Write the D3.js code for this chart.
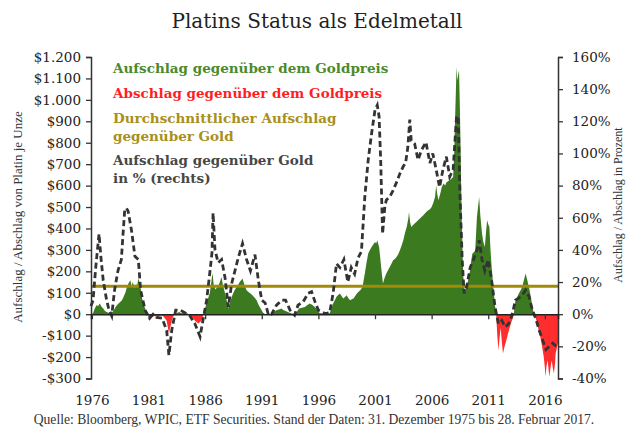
<!DOCTYPE html>
<html>
<head>
<meta charset="utf-8">
<script src="https://cdn.jsdelivr.net/npm/d3@7"></script>
<style>
  body { margin: 0; background: #fff; }
  svg text { font-family: "DejaVu Serif", serif; }
</style>
</head>
<body>
<svg id="chart" width="627" height="430"></svg>
<script>
// Aufschlag in $ je Unze (Platin - Gold)
var premYear = [1975.92,1976.1,1976.25,1976.4,1976.55,1976.7,1976.85,1977.0,1977.15,1977.3,1977.55,1977.75,1977.9,1978.05,1978.2,1978.35,1978.5,1978.65,1978.8,1978.95,1979.1,1979.25,1979.4,1979.5,1979.6,1979.7,1979.8,1979.9,1980.0,1980.1,1980.2,1980.33,1980.45,1980.6,1980.75,1980.9,1981.0,1981.15,1981.3,1981.5,1981.7,1981.9,1982.1,1982.3,1982.45,1982.6,1982.7,1982.8,1982.9,1983.0,1983.1,1983.2,1983.35,1983.5,1983.7,1983.9,1984.1,1984.3,1984.5,1984.65,1984.8,1984.95,1985.1,1985.25,1985.4,1985.55,1985.7,1985.8,1985.87,1986.0,1986.13,1986.3,1986.4,1986.5,1986.6,1986.66,1986.75,1986.9,1987.05,1987.15,1987.3,1987.45,1987.55,1987.65,1987.8,1987.9,1988.05,1988.2,1988.35,1988.5,1988.6,1988.75,1988.9,1989.05,1989.2,1989.3,1989.45,1989.55,1989.66,1989.8,1990.0,1990.15,1990.3,1990.45,1990.55,1990.7,1990.9,1991.1,1991.3,1991.5,1991.7,1991.9,1992.1,1992.3,1992.5,1992.75,1992.9,1993.1,1993.3,1993.5,1993.7,1993.9,1994.1,1994.3,1994.55,1994.8,1995.0,1995.25,1995.4,1995.5,1995.65,1995.8,1995.95,1996.1,1996.4,1996.7,1997.0,1997.15,1997.3,1997.45,1997.6,1997.75,1997.9,1998.05,1998.2,1998.35,1998.5,1998.65,1998.8,1998.95,1999.1,1999.25,1999.4,1999.55,1999.7,1999.9,2000.0,2000.1,2000.25,2000.4,2000.55,2000.7,2000.85,2001.0,2001.1,2001.2,2001.36,2001.45,2001.55,2001.7,2001.85,2002.0,2002.15,2002.3,2002.45,2002.6,2002.75,2002.9,2003.05,2003.2,2003.35,2003.5,2003.65,2003.8,2003.95,2004.0,2004.1,2004.2,2004.35,2004.5,2004.65,2004.8,2004.95,2005.1,2005.25,2005.4,2005.55,2005.7,2005.85,2006.0,2006.15,2006.3,2006.4,2006.5,2006.6,2006.75,2006.9,2007.05,2007.2,2007.3,2007.45,2007.6,2007.75,2007.9,2008.0,2008.05,2008.12,2008.2,2008.27,2008.35,2008.42,2008.5,2008.55,2008.62,2008.68,2008.75,2008.8,2008.9,2009.0,2009.1,2009.25,2009.4,2009.5,2009.6,2009.75,2009.85,2009.95,2010.0,2010.1,2010.2,2010.3,2010.45,2010.55,2010.7,2010.8,2010.9,2011.0,2011.1,2011.2,2011.3,2011.4,2011.5,2011.6,2011.7,2011.8,2011.9,2012.0,2012.1,2012.2,2012.3,2012.45,2012.6,2012.75,2012.9,2013.05,2013.2,2013.3,2013.4,2013.55,2013.7,2013.85,2014.0,2014.15,2014.3,2014.45,2014.55,2014.65,2014.8,2014.9,2015.0,2015.1,2015.2,2015.33,2015.45,2015.6,2015.75,2015.9,2016.0,2016.05,2016.15,2016.25,2016.33,2016.4,2016.5,2016.6,2016.7,2016.8,2016.9,2016.95,2017.05,2017.16];
var premUsd = [0,5,25,42,38,50,35,27,15,10,5,8,15,30,42,50,57,65,81,100,127,145,158,127,150,135,120,140,135,166,150,112,70,42,20,8,0,-10,-14,-8,-12,-10,-6,-10,-20,-30,-60,-90,-65,-45,-20,-8,2,6,10,5,8,6,2,-5,-12,-20,-30,-38,-43,-36,-28,-10,0,30,50,80,96,130,175,190,140,115,125,130,150,174,140,120,90,65,27,55,81,100,112,125,135,150,160,166,140,125,112,105,96,90,81,72,65,45,27,8,0,-3,-2,5,12,19,22,27,20,15,10,6,3,0,12,27,30,34,42,50,45,42,35,27,15,6,3,2,5,25,50,65,81,90,96,85,73,80,88,75,65,70,73,85,96,105,112,127,160,190,240,283,300,314,325,337,330,345,314,270,215,143,170,190,205,220,235,252,258,267,280,298,320,345,380,407,450,477,430,407,415,423,430,438,445,453,460,470,478,485,490,500,520,547,600,560,532,560,594,610,600,615,620,625,632,640,760,873,1000,1153,1090,1120,1137,950,796,560,407,260,174,112,118,127,165,205,250,283,290,298,400,453,500,547,460,376,340,314,380,438,420,407,300,220,160,96,40,0,-100,-168,-110,-62,-130,-183,-150,-122,-90,-62,-35,-15,20,65,80,96,110,127,160,190,158,135,112,70,34,12,0,-20,-43,-75,-106,-150,-199,-250,-292,-240,-215,-260,-292,-250,-215,-250,-277,-230,-184,-160,-137];

// Aufschlag in % (rechte Achse)
var pctYear = [1975.92,1976.1,1976.35,1976.63,1976.8,1977.0,1977.3,1977.5,1977.75,1978.0,1978.3,1978.6,1978.75,1978.9,1979.05,1979.2,1979.5,1979.8,1980.1,1980.3,1980.7,1981.1,1981.4,1981.7,1982.2,1982.6,1982.8,1983.05,1983.4,1983.8,1984.2,1984.65,1985.1,1985.55,1985.85,1986.13,1986.4,1986.6,1986.7,1986.87,1987.15,1987.45,1987.75,1988.05,1988.34,1988.63,1988.92,1989.3,1989.66,1990.0,1990.4,1990.7,1991.0,1991.3,1991.6,1991.87,1992.3,1992.75,1993.1,1993.5,1993.9,1994.2,1994.65,1995.1,1995.4,1995.7,1996.0,1996.6,1997.0,1997.3,1997.6,1997.9,1998.25,1998.6,1998.9,1999.2,1999.5,1999.8,2000.1,2000.4,2000.7,2001.0,2001.2,2001.36,2001.5,2001.67,2001.87,2002.0,2002.3,2002.6,2002.9,2003.2,2003.5,2003.7,2003.9,2004.07,2004.2,2004.5,2004.8,2005.1,2005.5,2005.85,2006.1,2006.4,2006.7,2007.0,2007.3,2007.6,2007.9,2008.2,2008.35,2008.5,2008.7,2008.87,2009.1,2009.4,2009.7,2010.0,2010.2,2010.45,2010.7,2011.0,2011.3,2011.6,2011.9,2012.2,2012.5,2012.8,2013.1,2013.4,2013.7,2014.0,2014.3,2014.6,2014.9,2015.2,2015.5,2015.8,2016.1,2016.4,2016.7,2017.0,2017.16];
var pctVal = [5,8.7,30,50,35,21,8.7,3,-1,15,27,34,50,65,66,64,52,36,34,15,2.5,-2.5,0,-2,-2.5,-10,-25.5,-10,2.5,2.5,1,-1,-6,-14,-2,8.7,25,38,63,40,32,34,23,4.5,19,27,35,44,34,27,37,21,8.7,7,-0.6,0,5.6,8.7,8.7,2.5,-0.6,5.6,7.7,13,14,7.7,2.5,0.4,1,13,31.5,29,34,20,29,25,35,39,73,96,112.5,127,130,123,96,50,67,71,73,77,82,87.5,92,94,104,121,108,106,96,102,107,94,100,90,79,90,98,85.5,90,123,123,75,34,13,17,29,34,40,46,34,27,34,21,4.5,-6,-4,-8,-6,-0.6,8.7,10,12,15,11,2.5,-2.7,-10,-16,-22,-20,-18,-20,-19];

var avgPremium = 130;

var leftTicks = [-300,-200,-100,0,100,200,300,400,500,600,700,800,900,1000,1100,1200];
var rightTicks = [-40,-20,0,20,40,60,80,100,120,140,160];
var yearTicks = [1976,1981,1986,1991,1996,2001,2006,2011,2016];

var legendItems = [
  { lines: ["Aufschlag gegenüber dem Goldpreis"], color: "#4b8a2e" },
  { lines: ["Abschlag gegenüber dem Goldpreis"], color: "#ff1f1f" },
  { lines: ["Durchschnittlicher Aufschlag", "gegenüber Gold"], color: "#a8901a" },
  { lines: ["Aufschlag gegenüber Gold", "in % (rechts)"], color: "#474747" }
];

var svg = d3.select("#chart");
var x = d3.scaleLinear().domain([1975.92, 2017.16]).range([91, 558]);
var yL = d3.scaleLinear().domain([-300, 1200]).range([378.5, 57]);
var yR = d3.scaleLinear().domain([-40, 160]).range([378.5, 57]);

var locale = d3.formatLocale({ decimal: ",", thousands: ".", grouping: [3], currency: ["$", ""], minus: "-" });
var fmtUsd = locale.format("$,");

// clip regions above / below zero
var defs = svg.append("defs");
defs.append("clipPath").attr("id", "above")
  .append("rect").attr("x", 0).attr("y", 0).attr("width", 627).attr("height", yL(0));
defs.append("clipPath").attr("id", "below")
  .append("rect").attr("x", 0).attr("y", yL(0)).attr("width", 627).attr("height", 430 - yL(0));

var premData = premYear.map(function (d, i) { return [d, premUsd[i]]; });
var area = d3.area()
  .x(function (d) { return x(d[0]); })
  .y0(yL(0))
  .y1(function (d) { return yL(d[1]); });

svg.append("path").datum(premData)
  .attr("d", area).attr("fill", "#3b7a1f").attr("clip-path", "url(#above)");
svg.append("path").datum(premData)
  .attr("d", area).attr("fill", "#ff2d2d").attr("clip-path", "url(#below)");

// average line
svg.append("line")
  .attr("x1", x.range()[0]).attr("x2", x.range()[1])
  .attr("y1", yL(avgPremium)).attr("y2", yL(avgPremium))
  .attr("stroke", "#a08a08").attr("stroke-width", 3);

// percent line
var pctData = pctYear.map(function (d, i) { return [d, pctVal[i]]; });
var line = d3.line()
  .x(function (d) { return x(d[0]); })
  .y(function (d) { return yR(d[1]); });
svg.append("path").datum(pctData)
  .attr("d", line)
  .attr("fill", "none")
  .attr("stroke", "#333")
  .attr("stroke-width", 2.8)
  .attr("stroke-dasharray", "6,3.5");

// axes
var axisL = svg.append("g").attr("transform", "translate(" + x.range()[0] + ",0)")
  .call(d3.axisLeft(yL).tickValues(leftTicks).tickSize(5).tickPadding(5).tickFormat(fmtUsd));
var axisR = svg.append("g").attr("transform", "translate(" + x.range()[1] + ",0)")
  .call(d3.axisRight(yR).tickValues(rightTicks).tickSize(5).tickPadding(9).tickFormat(function (d) { return d + "%"; }));
var axisX = svg.append("g").attr("transform", "translate(0," + yL(0) + ")")
  .call(d3.axisBottom(x).tickValues(yearTicks).tickSize(5).tickPadding(76).tickFormat(d3.format("d")));

[axisL, axisR, axisX].forEach(function (g) {
  g.select(".domain").attr("stroke", "#333").attr("stroke-width", 1.5);
  g.selectAll(".tick line").attr("stroke", "#333").attr("stroke-width", 1.3);
  g.selectAll(".tick text").attr("fill", "#222").style("font-size", "13.5px").style("font-family", "DejaVu Serif, serif");
});
axisX.select(".domain").attr("stroke", "#222");

// title
svg.append("text").attr("x", 317).attr("y", 28).attr("text-anchor", "middle")
  .style("font-size", "20px").attr("fill", "#222").text("Platins Status als Edelmetall");

// axis titles
svg.append("text").attr("transform", "translate(22,217) rotate(-90)")
  .attr("text-anchor", "middle").style("font-family", "Liberation Serif, serif")
  .style("font-size", "13px").attr("fill", "#333")
  .text("Aufschlag / Abschlag von Platin je Unze");
svg.append("text").attr("transform", "translate(622,205) rotate(-90)")
  .attr("text-anchor", "middle").style("font-family", "Liberation Serif, serif")
  .style("font-size", "12px").attr("fill", "#333")
  .text("Aufschlag / Abschlag in Prozent");

// legend
var legendY = [73, 98, 123, 165];
legendItems.forEach(function (item, i) {
  var t = svg.append("text").attr("x", 113).attr("y", legendY[i])
    .attr("fill", item.color).style("font-weight", "bold").style("font-size", "13.5px");
  item.lines.forEach(function (l, j) {
    t.append("tspan").attr("x", 113).attr("dy", j === 0 ? 0 : 17.5).text(l);
  });
});

// source
svg.append("text").attr("x", 314).attr("y", 424).attr("text-anchor", "middle")
  .style("font-family", "Liberation Serif, serif").style("font-size", "13.6px").attr("fill", "#333")
  .text("Quelle: Bloomberg, WPIC, ETF Securities. Stand der Daten: 31. Dezember 1975 bis 28. Februar 2017.");
</script>
</body>
</html>
